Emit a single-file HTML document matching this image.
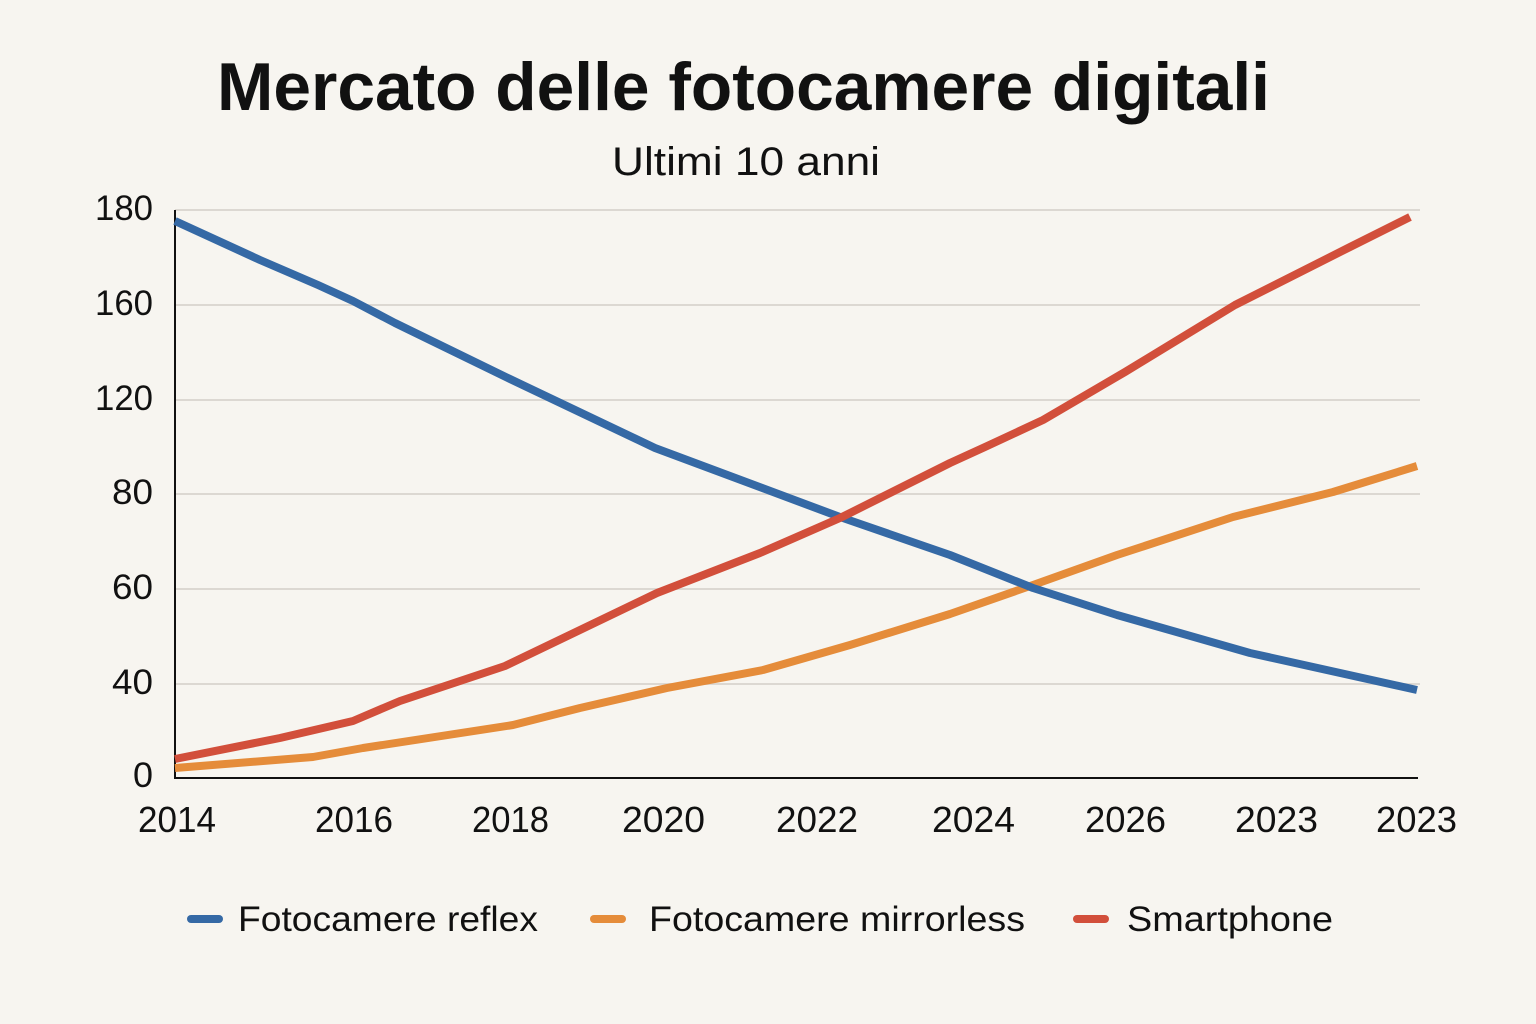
<!DOCTYPE html>
<html>
<head>
<meta charset="utf-8">
<style>
  html, body { margin: 0; padding: 0; background: #f7f5f0; }
  svg { display: block; }
  text { font-family: "Liberation Sans", "DejaVu Sans", sans-serif; fill: #111; }
</style>
</head>
<body>
<svg width="1536" height="1024" viewBox="0 0 1536 1024" xmlns="http://www.w3.org/2000/svg">
  <rect x="0" y="0" width="1536" height="1024" fill="#f7f5f0"/>

  <!-- Title -->
  <text x="217" y="110" font-size="68" font-weight="bold" textLength="1053" lengthAdjust="spacingAndGlyphs">Mercato delle fotocamere digitali</text>
  <text x="612" y="175" font-size="40" textLength="268" lengthAdjust="spacingAndGlyphs">Ultimi 10 anni</text>

  <!-- Gridlines -->
  <g stroke="#dcd8d2" stroke-width="2">
    <line x1="175" y1="210" x2="1420" y2="210"/>
    <line x1="175" y1="305" x2="1420" y2="305"/>
    <line x1="175" y1="400" x2="1420" y2="400"/>
    <line x1="175" y1="494" x2="1420" y2="494"/>
    <line x1="175" y1="589" x2="1420" y2="589"/>
    <line x1="175" y1="684" x2="1420" y2="684"/>
  </g>

  <!-- Axes -->
  <line x1="175" y1="210" x2="175" y2="778" stroke="#111" stroke-width="2"/>
  <line x1="174" y1="778" x2="1418" y2="778" stroke="#111" stroke-width="2"/>

  <!-- Y labels -->
  <g font-size="35" text-anchor="end">
    <text x="153" y="220" textLength="58" lengthAdjust="spacingAndGlyphs">180</text>
    <text x="153" y="315" textLength="58" lengthAdjust="spacingAndGlyphs">160</text>
    <text x="153" y="410" textLength="58" lengthAdjust="spacingAndGlyphs">120</text>
    <text x="153" y="504" textLength="41" lengthAdjust="spacingAndGlyphs">80</text>
    <text x="153" y="599" textLength="41" lengthAdjust="spacingAndGlyphs">60</text>
    <text x="153" y="694" textLength="41" lengthAdjust="spacingAndGlyphs">40</text>
    <text x="153" y="787" textLength="20" lengthAdjust="spacingAndGlyphs">0</text>
  </g>

  <!-- X labels -->
  <g font-size="36">
    <text x="138" y="832" textLength="78" lengthAdjust="spacingAndGlyphs">2014</text>
    <text x="315" y="832" textLength="78" lengthAdjust="spacingAndGlyphs">2016</text>
    <text x="472" y="832" textLength="77" lengthAdjust="spacingAndGlyphs">2018</text>
    <text x="622" y="832" textLength="83" lengthAdjust="spacingAndGlyphs">2020</text>
    <text x="776" y="832" textLength="82" lengthAdjust="spacingAndGlyphs">2022</text>
    <text x="932" y="832" textLength="83" lengthAdjust="spacingAndGlyphs">2024</text>
    <text x="1085" y="832" textLength="81" lengthAdjust="spacingAndGlyphs">2026</text>
    <text x="1235" y="832" textLength="83" lengthAdjust="spacingAndGlyphs">2023</text>
    <text x="1376" y="832" textLength="81" lengthAdjust="spacingAndGlyphs">2023</text>
  </g>

  <!-- Series -->
  <g fill="none" stroke-width="8" stroke-linejoin="round" stroke-linecap="butt">
    <!-- Mirrorless (orange) -->
    <polyline stroke="#e58c3a" points="175,768 313,757 363,748 513,725 580,708 667,688 763,670 850,645 950,614 1033,585 1117,555 1233,517 1333,492 1417,466"/>
    <!-- Reflex (blue) -->
    <polyline stroke="#3569a5" points="175,221 260,260 318,285 353,301 395,323 510,379 655,448 840,517 950,555 1033,588 1117,615 1250,653 1417,690"/>
    <!-- Smartphone (red) -->
    <polyline stroke="#d24f3b" points="175,759 280,738 353,721 400,701 505,666 657,593 760,553 840,518 950,463 985,447 1043,420 1125,372 1235,305 1350,247 1410,217"/>
  </g>

  <!-- Legend -->
  <g stroke-width="8" stroke-linecap="round">
    <line x1="191" y1="919" x2="219" y2="919" stroke="#3569a5"/>
    <line x1="594" y1="919" x2="622" y2="919" stroke="#e58c3a"/>
    <line x1="1077" y1="919" x2="1105" y2="919" stroke="#d24f3b"/>
  </g>
  <g font-size="35">
    <text x="238" y="931" textLength="300" lengthAdjust="spacingAndGlyphs">Fotocamere reflex</text>
    <text x="649" y="931" textLength="376" lengthAdjust="spacingAndGlyphs">Fotocamere mirrorless</text>
    <text x="1127" y="931" textLength="206" lengthAdjust="spacingAndGlyphs">Smartphone</text>
  </g>
</svg>
</body>
</html>
